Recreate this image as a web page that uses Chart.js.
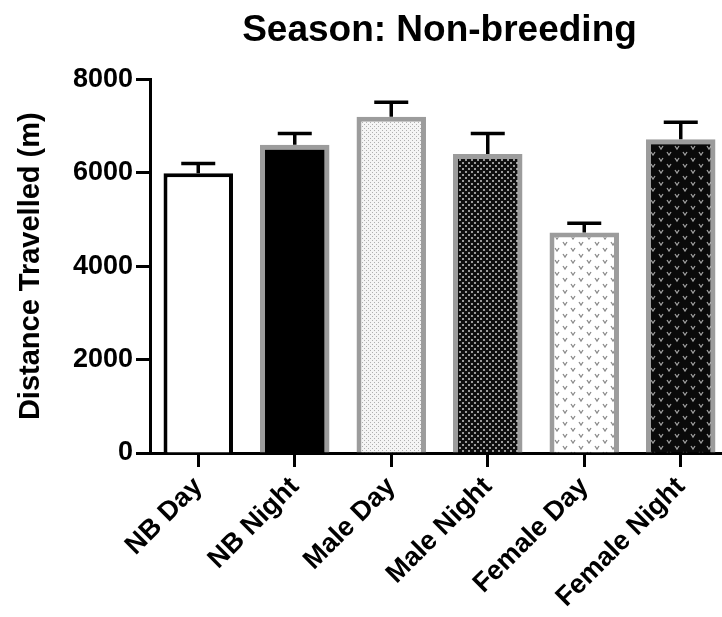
<!DOCTYPE html>
<html>
<head>
<meta charset="utf-8">
<script src="https://cdn.jsdelivr.net/npm/chart.js@4.4.0/dist/chart.umd.min.js"></script>
<style>
  html, body { margin: 0; padding: 0; background: #fff; overflow: hidden; }
  #wrap { width: 740px; height: 617px; }
</style>
</head>
<body>
<div id="wrap"><canvas id="distanceChart" width="740" height="617"></canvas></div>
<script>
const categories = ['NB Day', 'NB Night', 'Male Day', 'Male Night', 'Female Day', 'Female Night'];
const distance = [5990, 6600, 7200, 6400, 4720, 6720];
const distanceErr = [210, 240, 310, 440, 200, 360];
const yTicks = [0, 2000, 4000, 6000, 8000];

const FONT = 'Liberation Sans, Arial, Helvetica, sans-serif';

// small repeating tiles for the hatched fills
function tile(w, h, bg, draw) {
    const c = document.createElement('canvas');
    c.width = w;
    c.height = h;
    const g = c.getContext('2d');
    g.fillStyle = bg;
    g.fillRect(0, 0, w, h);
    draw(g);
    return g.createPattern(c, 'repeat');
}

function vMarks(color) {
    return function(g) {
        g.strokeStyle = color;
        g.lineWidth = 1.3;
        [[3, 2], [11, 8]].forEach(function(p) {
            g.beginPath();
            g.moveTo(p[0], p[1]);
            g.lineTo(p[0] + 2, p[1] + 3);
            g.lineTo(p[0] + 4, p[1]);
            g.stroke();
        });
    };
}

const cvs = document.getElementById('distanceChart');
const ctx = cvs.getContext('2d');

const fills = [
    '#ffffff',
    '#000000',
    tile(4, 4, '#f5f5f5', function(g) {
        g.fillStyle = '#b0b0b0';
        g.fillRect(0, 0, 1, 1);
        g.fillRect(2, 2, 1, 1);
    }),
    tile(6, 6, '#0e0e0e', function(g) {
        g.fillStyle = '#9a9a9a';
        g.fillRect(0, 0, 2, 2);
        g.fillRect(3, 3, 2, 2);
    }),
    tile(16, 12, '#ffffff', vMarks('#8a8a8a')),
    tile(16, 12, '#0a0a0a', vMarks('#a0a0a0'))
];

const errorBars = {
    id: 'errorBars',
    afterDatasetsDraw(chart) {
        const y = chart.scales.y;
        const meta = chart.getDatasetMeta(0);
        const c = chart.ctx;
        c.save();
        c.strokeStyle = '#000';
        c.lineWidth = 3.5;
        meta.data.forEach(function(bar, i) {
            const top = y.getPixelForValue(distance[i] + distanceErr[i]);
            c.beginPath();
            c.moveTo(bar.x, bar.y);
            c.lineTo(bar.x, top);
            c.moveTo(bar.x - 17, top);
            c.lineTo(bar.x + 17, top);
            c.stroke();
        });
        c.restore();
    }
};

new Chart(ctx, {
    type: 'bar',
    data: {
        labels: categories,
        datasets: [{
            data: distance,
            backgroundColor: fills,
            borderColor: ['#000000', '#9c9c9c', '#9c9c9c', '#9c9c9c', '#9c9c9c', '#9c9c9c'],
            borderWidth: [4, 5, 5, 5, 5, 5],
            borderSkipped: 'start',
            barPercentage: 0.72,
            categoryPercentage: 1
        }]
    },
    options: {
        responsive: false,
        animation: false,
        layout: {
            padding: { right: 11 }
        },
        plugins: {
            legend: { display: false },
            tooltip: { enabled: false },
            title: {
                display: true,
                text: 'Season: Non-breeding',
                color: '#000',
                fullSize: false,
                font: { family: FONT, size: 37, weight: 'bold' },
                padding: { top: 9, bottom: 26 }
            }
        },
        scales: {
            x: {
                offset: true,
                border: { display: true, color: '#000', width: 3 },
                grid: {
                    display: true,
                    drawOnChartArea: false,
                    offset: false,
                    tickLength: 14,
                    tickWidth: 3,
                    tickColor: '#000'
                },
                ticks: {
                    color: '#000',
                    autoSkip: false,
                    minRotation: 45,
                    maxRotation: 45,
                    padding: 4,
                    font: { family: FONT, size: 27, weight: 'bold' }
                },
                afterFit: function(scale) { scale.height = 164; }
            },
            y: {
                min: yTicks[0],
                max: yTicks[yTicks.length - 1],
                border: { display: true, color: '#000', width: 3 },
                grid: {
                    display: true,
                    drawOnChartArea: false,
                    tickLength: 14,
                    tickWidth: 3,
                    tickColor: '#000'
                },
                ticks: {
                    stepSize: yTicks[1] - yTicks[0],
                    color: '#000',
                    padding: 3,
                    font: { family: FONT, size: 27, weight: 'bold' },
                    callback: function(value) { return String(value); }
                },
                title: {
                    display: true,
                    text: 'Distance Travelled (m)',
                    color: '#000',
                    padding: { top: 14, bottom: 0 },
                    font: { family: FONT, size: 29, weight: 'bold' }
                },
                afterFit: function(scale) { scale.width = 150; }
            }
        }
    },
    plugins: [errorBars]
});
</script>
</body>
</html>
